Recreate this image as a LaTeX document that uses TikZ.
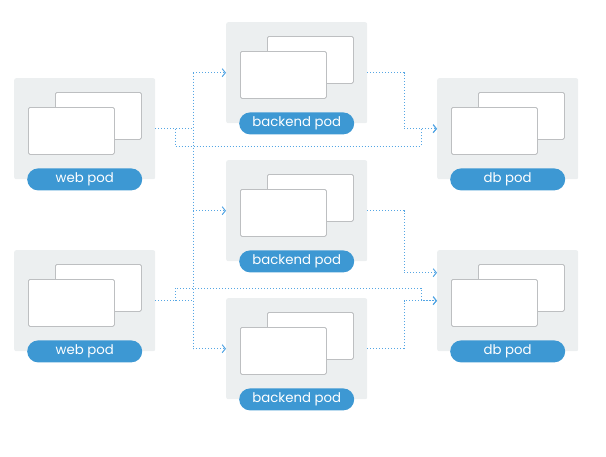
\documentclass[tikz,border=0pt]{standalone}
\usepackage{fontspec}
\usepackage{xcolor}
\usetikzlibrary{arrows.meta, calc, positioning}
\newfontfamily\podfont{Poppins}
\definecolor{podgray}{HTML}{ECEFF0}
\definecolor{podblue}{HTML}{3D98D3}
\definecolor{linkblue}{HTML}{55A6E4}
\definecolor{framegray}{HTML}{BDBFC1}
\tikzset{
    podbox/.style={fill=podgray, rounded corners=2pt, inner sep=0pt, minimum width=141pt, minimum height=101pt, anchor=north west},
    window/.style={draw=framegray, fill=white, line width=0.8pt, rounded corners=1.5pt, inner sep=0pt, minimum width=86pt, minimum height=47pt, anchor=north west},
    podlabel/.style={fill=podblue, text=white, rounded corners=11pt, inner sep=0pt, minimum width=115pt, minimum height=22pt, font=\podfont\fontsize{13.3}{13.3}\selectfont},
    link/.style={draw=linkblue, line width=1pt, dash pattern=on 1pt off 2pt},
    >={Straight Barb[length=3.2pt, width=8pt, line width=1pt]}
}
\newcommand{\pod}[3]{
    \node[podbox] (#1) at (#2) {};
    \node[window] (#1-b) at ($(#1.north west) + (41, 14)$) {};
    \node[window] (#1-f) at ($(#1.north west) + (14, 29)$) {};
    \node[podlabel] (#1-l) at (#1.south) {#3};
}

\begin{document}
\begin{tikzpicture}[x=1pt, y=-1pt]
                    \useasboundingbox (0, 0) rectangle (606, 456);
                    \pod{web1}{14, 78}{web pod}
                    \pod{web2}{14, 250}{web pod}
                    \pod{backend1}{226, 22}{backend pod}
                    \pod{backend2}{226, 160}{backend pod}
                    \pod{backend3}{226, 298}{backend pod}
                    \pod{db1}{437, 78}{db pod}
                    \pod{db2}{437, 250}{db pod}
                    \coordinate (fork) at (175, 0);
                    \coordinate (bus) at (193, 0);
                    \coordinate (merge) at (404, 0);
                    \coordinate (lane1) at (421, 146);
                    \coordinate (lane2) at (421, 288);
                    \coordinate (db2-in) at ([yshift=28pt]db2.west);
                    % web pods to backend pods
                    \draw[link]
                    (web1.east) -- (web1.east -| bus)
                    (web2.east) -- (web2.east -| bus)
                    (backend1.west -| bus) -- (backend3.west -| bus);
                    \foreach \b in {backend1, backend2, backend3}
                        \draw[link, ->] (\b.west -| bus) -- (\b.west);
                    % web pods to db pods
                    \draw[link, ->] (web1.east -| fork) |- (lane1) |- (db1.west);
                    \draw[link, ->] (web2.east -| fork) |- (lane2) |- (db2.west);
                    % backend pods to db pods
                    \draw[link, ->] (backend1.east) -| (merge |- db1.west) -- (db1.west);
                    \draw[link, ->] (backend2.east) -| (merge |- db2-in) -- (db2-in);
                    \draw[link, ->] (backend3.east) -| (merge |- db2.west) -- (db2.west);
                \end{tikzpicture}
\end{document}
